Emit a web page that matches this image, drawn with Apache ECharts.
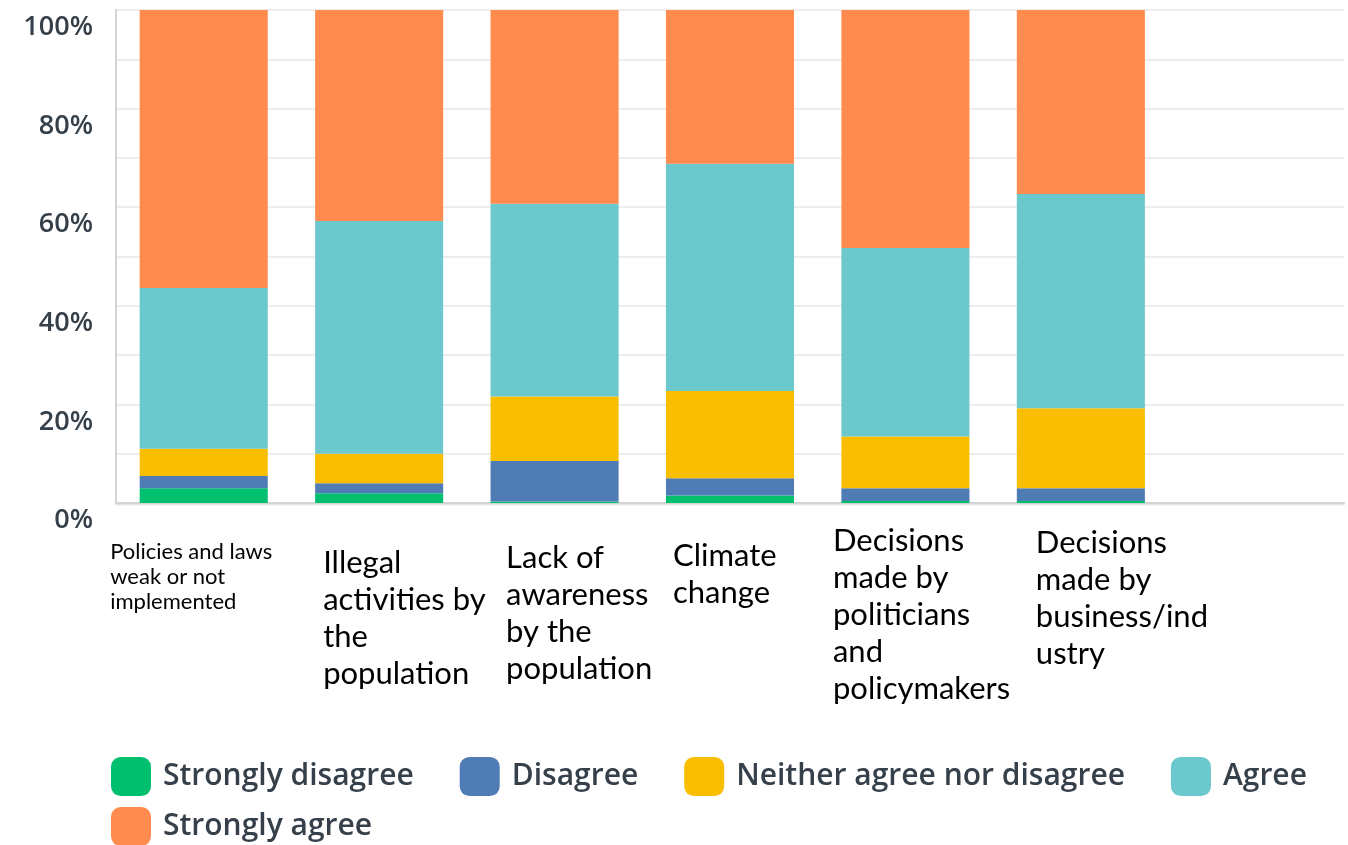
<!DOCTYPE html>
<html>
<head>
<meta charset="utf-8">
<script src="https://cdn.jsdelivr.net/npm/echarts@6/dist/echarts.min.js"></script>
<style>
html,body{margin:0;padding:0;background:#fff;}
#chart{width:1348px;height:845px;}
</style>
</head>
<body>
<div id="chart"></div>
<script>
// ---- data ----
const categories = [
  'Policies and laws\nweak or not\nimplemented',
  'Illegal\nactivities by\nthe\npopulation',
  'Lack of\nawareness\nby the\npopulation',
  'Climate\nchange',
  'Decisions\nmade by\npoliticians\nand\npolicymakers',
  'Decisions\nmade by\nbusiness/ind\nustry',
  ''
];
const seriesNames = ['Strongly disagree', 'Disagree', 'Neither agree nor disagree', 'Agree', 'Strongly agree'];
const stronglyDisagree = [3.0, 2.0, 0.3, 1.5, 0.4, 0.4, null];
const disagree         = [2.5, 2.0, 8.2, 3.5, 2.6, 2.6, null];
const neither          = [5.5, 6.0, 13.1, 17.7, 10.5, 16.2, null];
const agree            = [32.6, 47.2, 39.1, 46.1, 38.2, 43.5, null];
const stronglyAgree    = [56.4, 42.8, 39.3, 31.2, 48.3, 37.3, null];
const yTickLabels = ['0%', '20%', '40%', '60%', '80%', '100%'];

// ---- styling ----
const colors = ['#00bf6f', '#507cb6', '#f9be00', '#6bc8cd', '#ff8b4f'];
// per-category label layout: block width, top spacer, font size, line height
const labelLayout = [
  {w: 187, sp: 26, fs: 22, lh: 25},
  {w: 112, sp: 31, fs: 31, lh: 37},
  {w: 97,  sp: 26, fs: 31, lh: 37},
  {w: 114, sp: 24, fs: 31, lh: 37},
  {w: 145, sp: 9,  fs: 31, lh: 37},
  {w: 90,  sp: 11, fs: 31, lh: 37},
  {w: 10,  sp: 1,  fs: 10, lh: 10}
];
const rich = {};
labelLayout.forEach((l, i) => {
  rich['s' + i] = {width: l.w, align: 'left', fontSize: 1, lineHeight: l.sp};
  rich['t' + i] = {width: l.w, align: 'left', fontSize: l.fs, lineHeight: l.lh, fontFamily: 'Lato', color: '#000'};
});

const legendText = {fontSize: 30, fontWeight: 600, fontFamily: 'Open Sans', color: '#36404a', padding: [4, 0, 0, 7]};
const seriesData = [stronglyDisagree, disagree, neither, agree, stronglyAgree];
const chart = echarts.init(document.getElementById('chart'));
chart.setOption({
  animation: false,
  color: colors,
  grid: {left: 116, right: 4, top: 10, bottom: 342, containLabel: false},
  legend: [
    {
      data: seriesNames.slice(0, 4),
      left: 111, top: 757, padding: 0,
      itemWidth: 40, itemHeight: 39, itemGap: 46,
      icon: 'roundRect',
      textStyle: legendText
    },
    {
      data: seriesNames.slice(4),
      left: 111, top: 807, padding: 0,
      itemWidth: 40, itemHeight: 39, itemGap: 46,
      icon: 'roundRect',
      textStyle: legendText
    }
  ],
  xAxis: {
    type: 'category',
    data: categories,
    axisTick: {show: false},
    axisLine: {show: true, lineStyle: {color: '#d3d3d3', width: 2, shadowColor: 'rgba(0,0,0,0.15)', shadowBlur: 2, shadowOffsetY: 1}},
    axisLabel: {
      interval: 0,
      margin: 10,
      rich: rich,
      formatter: function (v, i) {
        if (!v) return '';
        return '{s' + i + '|\u00a0}\n' + v.split('\n').map(s => '{t' + i + '|' + s + '}').join('\n');
      }
    }
  },
  yAxis: {
    type: 'value',
    min: 0, max: 100, interval: 10,
    axisLine: {show: true, lineStyle: {color: '#d5d5d5', width: 2}},
    axisTick: {show: false},
    splitLine: {lineStyle: {color: '#ededed', width: 2}},
    axisLabel: {
      margin: 23,
      fontSize: 27,
      fontWeight: 600,
      fontFamily: 'Open Sans',
      color: '#36404a',
      verticalAlign: 'top',
      padding: [4, 0, 0, 0],
      formatter: function (v) {
        const idx = yTickLabels.indexOf(v + '%');
        return (v % 20 === 0 && idx >= 0) ? yTickLabels[idx] : '';
      }
    }
  },
  series: seriesNames.map((name, k) => ({
    name: name,
    type: 'bar',
    stack: 'total',
    barWidth: '73%',
    data: seriesData[k],
    itemStyle: {color: colors[k]}
  }))
});
</script>
</body>
</html>
